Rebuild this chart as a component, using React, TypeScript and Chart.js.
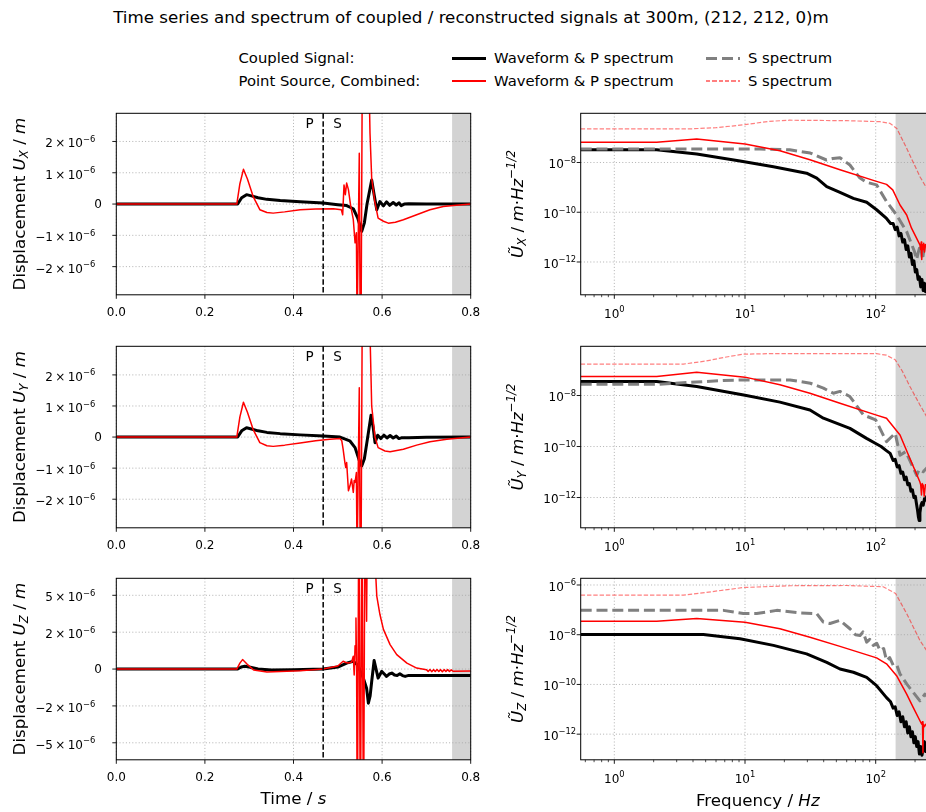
import React, { useEffect, useRef } from "react";
import { Chart, registerables, LinearScale } from "chart.js";

Chart.register(...registerables);

// ---------------- asinh scale (used for the vertical U_Z displacement axis) ----------------
const ASINH_WIDTH = 2.67e-6;
class AsinhScale extends LinearScale {
  static id = "asinh";
  getPixelForValue(value: any) {
    if (value === null || value === undefined || isNaN(value)) return NaN;
    const lo = Math.asinh(this.min / ASINH_WIDTH);
    const hi = Math.asinh(this.max / ASINH_WIDTH);
    return this.getPixelForDecimal((Math.asinh(value / ASINH_WIDTH) - lo) / (hi - lo));
  }
  getValueForPixel(pixel: number) {
    const lo = Math.asinh(this.min / ASINH_WIDTH);
    const hi = Math.asinh(this.max / ASINH_WIDTH);
    return ASINH_WIDTH * Math.sinh(lo + this.getDecimalForPixel(pixel) * (hi - lo));
  }
}
Chart.register(AsinhScale as any);

// ---------------- data: time series (t in s, displacement in m) ----------------
const T_UX_CPL = [0, 0.274, 0.283, 0.294, 0.305, 0.32, 0.34, 0.37, 0.415, 0.467, 0.5, 0.52, 0.535, 0.545, 0.554, 0.56, 0.566, 0.5765, 0.582, 0.588, 0.595, 0.603, 0.61, 0.617, 0.625, 0.632, 0.638, 0.643, 0.65, 0.66, 0.7, 0.8];
const UX_CPL = [0, 0, 0.2e-6, 0.3e-6, 0.26e-6, 0.2e-6, 0.15e-6, 0.11e-6, 0.07e-6, 0.03e-6, -0.02e-6, -0.05e-6, -0.15e-6, -0.45e-6, -0.87e-6, -0.6e-6, 0, 0.77e-6, 0.3e-6, -0.18e-6, 0.08e-6, -0.06e-6, 0.07e-6, -0.04e-6, 0.05e-6, -0.03e-6, 0.04e-6, -0.05e-6, 0, 0.01e-6, 0, 0];
const T_UX_PT = [0, 0.272, 0.279, 0.287, 0.296, 0.309, 0.324, 0.34, 0.354, 0.38, 0.415, 0.45, 0.49, 0.508, 0.511, 0.514, 0.517, 0.52, 0.524, 0.529, 0.535, 0.539, 0.542, 0.5435, 0.5455, 0.5485, 0.5505, 0.5525, 0.5555, 0.562, 0.569, 0.5727, 0.5765, 0.5835, 0.591, 0.603, 0.614, 0.63, 0.648, 0.678, 0.708, 0.738, 0.761, 0.8];
const UX_PT = [0, 0, 0.65e-6, 1.11e-6, 0.8e-6, 0.24e-6, -0.18e-6, -0.27e-6, -0.29e-6, -0.25e-6, -0.18e-6, -0.16e-6, -0.15e-6, -0.18e-6, -0.34e-6, 0.61e-6, 0.3e-6, 0.67e-6, 0.46e-6, -0.05e-6, -0.5e-6, -1.24e-6, -0.92e-6, -4e-6, -4e-6, 1.62e-6, -4e-6, -4e-6, 5e-6, 8e-6, 5e-6, 2.26e-6, 0.83e-6, 0.08e-6, -0.45e-6, -0.55e-6, -0.61e-6, -0.58e-6, -0.5e-6, -0.34e-6, -0.18e-6, -0.08e-6, -0.05e-6, 0];

const T_UY_CPL = [0, 0.274, 0.283, 0.294, 0.305, 0.32, 0.34, 0.37, 0.415, 0.467, 0.505, 0.527, 0.539, 0.55, 0.554, 0.56, 0.567, 0.575, 0.58, 0.584, 0.59, 0.597, 0.604, 0.611, 0.618, 0.625, 0.632, 0.638, 0.645, 0.66, 0.7, 0.8];
const UY_CPL = [0, 0, 0.2e-6, 0.3e-6, 0.26e-6, 0.2e-6, 0.15e-6, 0.11e-6, 0.07e-6, 0.03e-6, 0, -0.12e-6, -0.34e-6, -0.82e-6, -0.93e-6, -0.7e-6, -0.05e-6, 0.7e-6, 0.3e-6, -0.18e-6, 0.06e-6, -0.05e-6, 0.06e-6, -0.03e-6, 0.05e-6, -0.03e-6, 0.03e-6, -0.05e-6, -0.02e-6, -0.02e-6, -0.01e-6, 0];
const T_UY_PT = [0, 0.272, 0.279, 0.287, 0.296, 0.309, 0.324, 0.34, 0.354, 0.38, 0.415, 0.45, 0.482, 0.505, 0.509, 0.512, 0.516, 0.518, 0.52, 0.524, 0.5275, 0.531, 0.535, 0.537, 0.539, 0.542, 0.5435, 0.5455, 0.5485, 0.5505, 0.5525, 0.5555, 0.563, 0.57, 0.5765, 0.584, 0.591, 0.6065, 0.618, 0.648, 0.678, 0.708, 0.746, 0.8];
const UY_PT = [0, 0, 0.65e-6, 1.12e-6, 0.8e-6, 0.24e-6, -0.18e-6, -0.28e-6, -0.3e-6, -0.26e-6, -0.19e-6, -0.12e-6, -0.07e-6, -0.05e-6, -0.12e-6, -0.39e-6, -0.82e-6, -0.98e-6, -0.82e-6, -1.73e-6, -1.57e-6, -1.35e-6, -1.78e-6, -1.4e-6, -1.46e-6, -1.14e-6, -4e-6, -4e-6, 1.59e-6, -4e-6, -4e-6, 5e-6, 8e-6, 5e-6, 1.0e-6, 0, -0.34e-6, -0.45e-6, -0.47e-6, -0.39e-6, -0.26e-6, -0.15e-6, -0.07e-6, 0];

const T_UZ_CPL = [0, 0.274, 0.282, 0.29, 0.3, 0.32, 0.35, 0.4, 0.467, 0.5, 0.52, 0.535, 0.545, 0.5575, 0.565, 0.569, 0.573, 0.5765, 0.582, 0.591, 0.599, 0.605, 0.61, 0.616, 0.622, 0.628, 0.634, 0.64, 0.646, 0.652, 0.66, 0.7, 0.8];
const UZ_CPL = [0, 0, 0.1e-6, 0.14e-6, 0.1e-6, 0, -0.05e-6, -0.04e-6, 0, 0.1e-6, 0.3e-6, 0.39e-6, 0.2e-6, -0.45e-6, -0.98e-6, -1.83e-6, -1.4e-6, -0.63e-6, 0.43e-6, -0.455e-6, -0.12e-6, -0.25e-6, -0.37e-6, -0.25e-6, -0.2e-6, -0.3e-6, -0.32e-6, -0.24e-6, -0.33e-6, -0.37e-6, -0.32e-6, -0.32e-6, -0.32e-6];
const T_UZ_PT = [0, 0.272, 0.279, 0.285, 0.295, 0.31, 0.34, 0.415, 0.467, 0.5, 0.512, 0.518, 0.524, 0.531, 0.535, 0.537, 0.539, 0.541, 0.5425, 0.544, 0.5475, 0.551, 0.5545, 0.558, 0.5615, 0.565, 0.567, 0.575, 0.58, 0.588, 0.595, 0.603, 0.618, 0.633, 0.656, 0.678, 0.7, 0.704, 0.708, 0.712, 0.716, 0.72, 0.724, 0.728, 0.732, 0.736, 0.74, 0.744, 0.748, 0.752, 0.756, 0.76, 0.8];
const UZ_PT = [0, 0, 0.3e-6, 0.477e-6, 0.25e-6, -0.05e-6, -0.15e-6, -0.09e-6, 0, 0.15e-6, 0.39e-6, 0.33e-6, 0.3e-6, 0.35e-6, 0.65e-6, -0.3e-6, 1.2e-6, 2.98e-6, -0.2e-6, -40e-6, 40e-6, -40e-6, 40e-6, -40e-6, 40e-6, 2.74e-6, 30e-6, 40e-6, 20e-6, 4.92e-6, 3.26e-6, 2.18e-6, 1.27e-6, 0.735e-6, 0.3e-6, 0.05e-6, -0.03e-6, -0.12e-6, -0.02e-6, -0.13e-6, -0.03e-6, -0.12e-6, -0.02e-6, -0.12e-6, -0.03e-6, -0.13e-6, -0.03e-6, -0.12e-6, -0.03e-6, -0.12e-6, -0.04e-6, -0.11e-6, -0.1e-6];

// ---------------- data: spectra (f in Hz, amplitude in m Hz^-1/2) ----------------
const F_UX_P_CPL = [0.553, 2.11, 4.27, 9.16, 16.5, 29.6, 35.4, 42.2, 53.3, 67.5, 85.3, 101.6, 121, 130, 136, 141, 146, 151, 156, 161, 166, 171, 176, 181, 186, 191, 196, 201, 206, 211, 216, 221, 226, 231, 236, 241, 246, 250];
const UX_P_CPL = [3.24e-8, 3.24e-8, 2.19e-8, 1.15e-8, 6.76e-9, 3.72e-9, 2.34e-9, 1.07e-9, 6.31e-10, 3.63e-10, 2.51e-10, 1.26e-10, 5.62e-11, 3.55e-11, 3.55e-11, 2.0e-11, 2.51e-11, 1.12e-11, 1.41e-11, 6.31e-12, 7.94e-12, 3.16e-12, 4.47e-12, 1.58e-12, 2.24e-12, 7.94e-13, 1.12e-12, 3.98e-13, 5.01e-13, 2.0e-13, 2.51e-13, 1e-13, 2.0e-13, 7.08e-14, 1.41e-13, 6.31e-14, 1.26e-13, 7.94e-14];
const F_UX_S_CPL = [0.553, 2.11, 13, 22, 31.6, 42, 47, 53.3, 63.5, 75, 85, 101.6, 121, 144.5, 172.6, 198, 206, 212, 220, 228, 236, 250];
const UX_S_CPL = [3.47e-8, 3.47e-8, 3.47e-8, 3.24e-8, 2.4e-8, 1.26e-8, 1.45e-8, 1.55e-8, 7.94e-9, 2.51e-9, 1.6e-9, 1.26e-9, 2.69e-10, 7.76e-11, 1.66e-11, 2.63e-12, 1.26e-12, 2.51e-12, 5.01e-12, 1.26e-12, 3.98e-12, 2.51e-12];
const F_UX_P_PT = [0.553, 2.11, 4.27, 10, 18.5, 31.4, 53.3, 100, 121, 135, 153.5, 172.6, 188, 218, 221, 223, 225, 227, 230, 233, 236, 240, 245, 250];
const UX_P_PT = [6.46e-8, 6.46e-8, 8.71e-8, 5.5e-8, 2.95e-8, 1.29e-8, 5.13e-9, 1.78e-9, 1.32e-9, 7.94e-10, 1.95e-10, 7.76e-11, 2.29e-11, 4.9e-12, 3.16e-12, 6.31e-12, 1.26e-12, 5.01e-12, 3.16e-12, 5.62e-12, 2.51e-12, 5.01e-12, 3.98e-12, 4.47e-12];
const F_UX_S_PT = [0.553, 3.8, 6, 10, 15, 22, 60, 108, 129, 145, 172.6, 218, 250];
const UX_S_PT = [2.24e-7, 2.24e-7, 2.51e-7, 3.31e-7, 4.47e-7, 5.01e-7, 4.79e-7, 4.37e-7, 3.72e-7, 2.34e-7, 3.72e-8, 2.69e-9, 7.94e-10];

const F_UY_P_CPL = [0.553, 2.11, 4.27, 10, 18.5, 31.4, 39.8, 63.5, 85.1, 100, 110, 120, 129, 136, 141, 146, 151, 156, 161, 166, 171, 176, 181, 186, 191, 196, 201, 206, 209, 212, 215, 218, 222, 226, 231, 236, 241, 246, 250];
const UY_P_CPL = [3.55e-8, 3.55e-8, 2.24e-8, 1.02e-8, 5.5e-9, 2.69e-9, 1.29e-9, 5.13e-10, 2.09e-10, 1.32e-10, 1e-10, 7.08e-11, 5.37e-11, 2.82e-11, 3.16e-11, 1.58e-11, 1.78e-11, 8.91e-12, 1e-11, 5.01e-12, 6.31e-12, 3.16e-12, 3.55e-12, 1.78e-12, 2.0e-12, 1e-12, 1.12e-12, 5.01e-13, 3.16e-13, 1.78e-13, 1.26e-13, 2.51e-13, 5.01e-13, 6.31e-13, 5.01e-13, 8.91e-13, 7.94e-13, 1.12e-12, 1.26e-12];
const F_UY_S_CPL = [0.553, 2.11, 6.82, 10, 22.1, 31.6, 39.8, 47.4, 53.3, 63.5, 80.4, 100, 121, 141, 153.5, 170, 206, 215, 231, 250];
const UY_S_CPL = [2.75e-8, 2.75e-8, 3.89e-8, 4.07e-8, 4.07e-8, 3.02e-8, 1.95e-8, 1.23e-8, 1.45e-8, 9.12e-9, 1.74e-9, 1.1e-9, 1.55e-10, 3.31e-10, 4.57e-11, 6.31e-11, 7.41e-12, 1.26e-11, 1.02e-11, 1.58e-11];
const F_UY_P_PT = [0.553, 2.11, 4.27, 10, 18.5, 31.4, 53.3, 100, 121, 153.5, 182.8, 218, 221, 224, 227, 231, 235, 240, 250];
const UY_P_PT = [5.62e-8, 5.62e-8, 8.13e-8, 5.25e-8, 2.63e-8, 1.23e-8, 5.01e-9, 1.74e-9, 1.29e-9, 2.82e-10, 3.39e-11, 4.07e-12, 3.16e-12, 1.26e-12, 3.55e-12, 3.02e-12, 1.12e-12, 3.16e-12, 3.16e-12];
const F_UY_S_PT = [0.553, 3.37, 5, 7, 9.7, 15, 101.6, 121, 141, 160, 182.8, 218, 250];
const UY_S_PT = [1.7e-7, 1.7e-7, 2.24e-7, 3.16e-7, 4.17e-7, 4.37e-7, 4.37e-7, 3.8e-7, 2.51e-7, 8.91e-8, 2.24e-8, 4.27e-9, 1.26e-9];

const F_UZ_P_CPL = [0.553, 4.8, 9.16, 16.5, 29.6, 42.2, 53.3, 67.5, 85.3, 101.6, 121, 130, 136, 141, 146, 151, 156, 161, 166, 171, 176, 181, 186, 191, 196, 201, 206, 211, 216, 221, 226, 231, 236, 241, 246, 250];
const UZ_P_CPL = [1.02e-8, 1.02e-8, 6.92e-9, 3.72e-9, 1.7e-9, 7.76e-10, 4.17e-10, 3.09e-10, 1.91e-10, 8.91e-11, 2.95e-11, 2.0e-11, 1.12e-11, 1.26e-11, 5.62e-12, 7.94e-12, 3.16e-12, 5.01e-12, 2.0e-12, 3.16e-12, 1.12e-12, 2.0e-12, 7.94e-13, 1.26e-12, 4.47e-13, 7.94e-13, 3.16e-13, 5.01e-13, 1.58e-13, 3.16e-13, 1.41e-13, 2.51e-13, 5.01e-13, 2.0e-13, 3.98e-13, 3.16e-13];
const F_UZ_S_CPL = [0.553, 6.82, 9.7, 12.3, 17.5, 26.4, 35.4, 39.7, 44.7, 53.3, 63.5, 70, 75.9, 80, 85.3, 90, 95.9, 102, 108, 115, 121, 128, 136.5, 145, 153.5, 172.6, 194, 218, 238, 250];
const UZ_S_CPL = [9.55e-8, 9.55e-8, 7.08e-8, 7.08e-8, 9.55e-8, 7.59e-8, 7.08e-8, 3.24e-8, 2.82e-8, 3.8e-8, 1.74e-8, 1.0e-8, 9.33e-9, 1.3e-8, 5.01e-9, 6.5e-9, 3.72e-9, 4.5e-9, 2.29e-9, 2.8e-9, 9.12e-10, 1.2e-9, 5.75e-10, 6.0e-10, 2.63e-10, 1.05e-10, 4.79e-11, 2.19e-11, 4.07e-11, 3.16e-11];
const F_UZ_P_PT = [0.553, 2.11, 4.27, 10, 18.5, 31.4, 53.3, 101.6, 121, 144.5, 172.6, 194, 225, 228, 230, 232, 236, 242, 250];
const UZ_P_PT = [3.47e-8, 3.47e-8, 4.47e-8, 3.16e-8, 1.74e-8, 7.94e-9, 3.39e-9, 1.17e-9, 6.76e-10, 2.24e-10, 4.07e-11, 1.17e-11, 2.51e-12, 3.16e-12, 1.78e-13, 2.51e-12, 2.0e-12, 2.51e-12, 2.51e-12];
const F_UZ_S_PT = [0.553, 3.37, 5, 7, 9.7, 22.1, 60, 114, 142, 172.6, 218, 250];
const UZ_S_PT = [3.89e-7, 3.89e-7, 5.01e-7, 6.31e-7, 7.94e-7, 9.33e-7, 9.55e-7, 8.51e-7, 4.57e-7, 7.08e-8, 5.89e-9, 2.0e-9];

// ---------------- ticks / ranges / markers ----------------
const TIME_TICKS = [0, 0.2, 0.4, 0.6, 0.8];
const UXY_TIME_YTICKS = [-2e-6, -1e-6, 0, 1e-6, 2e-6];
const UZ_TIME_YTICKS = [-5e-6, -2e-6, 0, 2e-6, 5e-6];
const FREQ_TICKS = [1, 10, 100];
const UXY_SPEC_YTICKS = [1e-12, 1e-10, 1e-8];
const UZ_SPEC_YTICKS = [1e-12, 1e-10, 1e-8, 1e-6];
const ARRIVAL_T = 0.467; // dashed separator between P and S windows
const TIME_SHADE_FROM = 0.758;
const FREQ_SHADE_FROM = 142;
const TIME_RANGE = [0, 0.8];
const FREQ_RANGE = [0.553, 250];
const UX_TIME_RANGE = [-2.9e-6, 2.9e-6];
const UY_TIME_RANGE = [-2.92e-6, 2.92e-6];
const UZ_TIME_RANGE = [-7.1e-6, 7.1e-6];
const UX_SPEC_RANGE = [4.8e-14, 9.5e-7];
const UY_SPEC_RANGE = [6.5e-14, 8.5e-7];
const UZ_SPEC_RANGE = [9.3e-14, 1.86e-6];

// ---------------- styles ----------------
const FONT = '"DejaVu Sans", sans-serif';
const TICK_SIZE = 12;
const LABEL_SIZE = 16.7;
const BLACK = "#000000";
const RED = "#ff0000";
const GRAY = "#808080";
const PINK = "rgba(255,0,0,0.5)";
const SHADE = "#d3d3d3";
const GRID = "#a8a8a8";

type Seg = { t: string; it?: boolean; sub?: boolean; sup?: boolean };
type Series = { x: number[]; y: number[]; color: string; width: number; dash?: number[]; order: number };
type Panel = {
  kind: "time" | "spec";
  comp: string;
  cx: number; cy: number; cw: number; ch: number;
  left: number; top: number; right: number; bottom: number;
  xType: string; yType: string;
  xr: number[]; yr: number[];
  xTicks: number[]; yTicks: number[];
  shadeFrom: number;
  series: Series[];
  xLabel: boolean;
};

const fnt = (size: number, italic?: boolean) => `${italic ? "italic " : ""}${size}px ${FONT}`;

function drawRich(ctx: CanvasRenderingContext2D, segs: Seg[], x: number, y: number, size: number, align: "left" | "center" | "right") {
  const sizes = segs.map((s) => (s.sub || s.sup ? size * 0.7 : size));
  const widths = segs.map((s, i) => {
    ctx.font = fnt(sizes[i], s.it);
    return ctx.measureText(s.t).width;
  });
  const total = widths.reduce((a, b) => a + b, 0);
  let cx = align === "left" ? x : align === "center" ? x - total / 2 : x - total;
  ctx.textAlign = "left";
  ctx.textBaseline = "alphabetic";
  segs.forEach((s, i) => {
    ctx.font = fnt(sizes[i], s.it);
    const dy = s.sub ? size * 0.22 : s.sup ? -size * 0.45 : 0;
    ctx.fillText(s.t, cx, y + dy);
    cx += widths[i];
  });
}

function sciLabel(v: number): Seg[] {
  if (v === 0) return [{ t: "0" }];
  const m = Math.round(v / 1e-6);
  return [{ t: `${m < 0 ? "\u2212" : ""}${Math.abs(m)}\u2009\u00d7\u200910` }, { t: "\u22126", sup: true }];
}
function logLabel(v: number): Seg[] {
  const e = Math.round(Math.log10(v));
  return [{ t: "10" }, { t: e < 0 ? `\u2212${-e}` : `${e}`, sup: true }];
}

function decorPlugin(p: Panel) {
  return {
    id: "decor",
    beforeDatasetsDraw(chart: any) {
      const { ctx, chartArea: a, scales } = chart;
      const xs = scales.x, ys = scales.y;
      ctx.save();
      const sx = xs.getPixelForValue(p.shadeFrom);
      ctx.fillStyle = SHADE;
      ctx.fillRect(sx, a.top, a.right - sx, a.bottom - a.top);
      ctx.strokeStyle = GRID;
      ctx.lineWidth = 0.9;
      ctx.setLineDash([1, 2.2]);
      ctx.beginPath();
      for (const v of p.xTicks) {
        const x = xs.getPixelForValue(v);
        ctx.moveTo(x, a.top);
        ctx.lineTo(x, a.bottom);
      }
      for (const v of p.yTicks) {
        const y = ys.getPixelForValue(v);
        ctx.moveTo(a.left, y);
        ctx.lineTo(a.right, y);
      }
      ctx.stroke();
      ctx.restore();
    },
    afterDatasetsDraw(chart: any) {
      const { ctx, chartArea: a, scales } = chart;
      const xs = scales.x, ys = scales.y;
      ctx.save();
      ctx.fillStyle = "#000";
      if (p.kind === "time") {
        const vx = xs.getPixelForValue(ARRIVAL_T);
        ctx.strokeStyle = "#000";
        ctx.lineWidth = 1.5;
        ctx.setLineDash([5.5, 2.4]);
        ctx.beginPath();
        ctx.moveTo(vx, a.top);
        ctx.lineTo(vx, a.bottom);
        ctx.stroke();
        ctx.setLineDash([]);
        ctx.font = fnt(13.5);
        ctx.textBaseline = "alphabetic";
        ctx.textAlign = "right";
        ctx.fillText("P", vx - 9.5, a.top + 15);
        ctx.textAlign = "left";
        ctx.fillText("S", vx + 10, a.top + 15);
      }
      // spines
      ctx.setLineDash([]);
      ctx.strokeStyle = "#000";
      ctx.lineWidth = 1;
      ctx.strokeRect(a.left, a.top, a.right - a.left, a.bottom - a.top);
      // ticks
      ctx.lineWidth = 0.9;
      ctx.beginPath();
      for (const v of p.xTicks) {
        const x = xs.getPixelForValue(v);
        ctx.moveTo(x, a.bottom);
        ctx.lineTo(x, a.bottom + 4);
      }
      for (const v of p.yTicks) {
        const y = ys.getPixelForValue(v);
        ctx.moveTo(a.left, y);
        ctx.lineTo(a.left - 4, y);
      }
      ctx.stroke();
      if (p.kind === "spec") {
        ctx.lineWidth = 0.7;
        ctx.beginPath();
        for (let d = -1; d <= 2; d++) {
          for (let m = 2; m <= 9; m++) {
            const v = m * Math.pow(10, d);
            if (v < p.xr[0] || v > p.xr[1]) continue;
            const x = xs.getPixelForValue(v);
            ctx.moveTo(x, a.bottom);
            ctx.lineTo(x, a.bottom + 2.4);
          }
        }
        ctx.stroke();
      }
      // tick labels
      for (const v of p.xTicks) {
        const x = xs.getPixelForValue(v);
        if (p.kind === "time") drawRich(ctx, [{ t: v.toFixed(1) }], x, a.bottom + 21.4, TICK_SIZE, "center");
        else drawRich(ctx, logLabel(v), x, a.bottom + 22.7, TICK_SIZE, "center");
      }
      for (const v of p.yTicks) {
        const y = ys.getPixelForValue(v);
        if (p.kind === "time") {
          if (v === 0) drawRich(ctx, sciLabel(v), a.left - 14.5, y + 4.4, TICK_SIZE, "right");
          else drawRich(ctx, sciLabel(v), a.left - 21, y + 6, TICK_SIZE, "right");
        } else drawRich(ctx, logLabel(v), a.left - 4.5, y + 5.7, TICK_SIZE, "right");
      }
      // y axis label (rotated)
      const cyMid = (a.top + a.bottom) / 2;
      ctx.save();
      if (p.kind === "time") {
        ctx.translate(24.5, cyMid);
        ctx.rotate(-Math.PI / 2);
        drawRich(ctx, [{ t: "Displacement " }, { t: "U", it: true }, { t: p.comp, it: true, sub: true }, { t: " / " }, { t: "m", it: true }], 0, 0, LABEL_SIZE, "center");
      } else {
        ctx.translate(42.5, cyMid);
        ctx.rotate(-Math.PI / 2);
        drawRich(ctx, [{ t: "\u0168", it: true }, { t: p.comp, it: true, sub: true }, { t: " / " }, { t: "m", it: true }, { t: "\u00b7" }, { t: "Hz", it: true }, { t: "\u22121/2", it: true, sup: true }], 0, 0, LABEL_SIZE, "center");
      }
      ctx.restore();
      if (p.xLabel) {
        if (p.kind === "time") drawRich(ctx, [{ t: "Time / " }, { t: "s", it: true }], (a.left + a.right) / 2, a.bottom + 44, LABEL_SIZE, "center");
        else drawRich(ctx, [{ t: "Frequency / " }, { t: "Hz", it: true }], 757.8 - p.cx, a.bottom + 46, LABEL_SIZE, "center");
      }
      ctx.restore();
    },
  };
}

function buildConfig(p: Panel) {
  return {
    type: "line",
    data: {
      datasets: p.series.map((s) => ({
        data: s.x.map((x, i) => ({ x, y: s.y[i] })),
        borderColor: s.color,
        borderWidth: s.width,
        borderDash: s.dash || [],
        pointRadius: 0,
        tension: 0,
        fill: false,
        order: s.order,
        borderJoinStyle: "round",
        borderCapStyle: "butt",
      })),
    },
    options: {
      animation: false,
      responsive: false,
      devicePixelRatio: 1,
      events: [],
      layout: { padding: { left: p.left, top: p.top, right: p.cw - p.right, bottom: p.ch - p.bottom } },
      plugins: { legend: { display: false }, tooltip: { enabled: false }, title: { display: false } },
      scales: {
        x: { type: p.xType, min: p.xr[0], max: p.xr[1], display: false },
        y: { type: p.yType, min: p.yr[0], max: p.yr[1], display: false },
      },
    },
    plugins: [decorPlugin(p)],
  };
}

const ROW_TOPS = [113.3, 346.3, 578.3];
const ROW_H = 181.5;
const CANVAS_Y = [83, 316, 548];
const CANVAS_H = [240, 240, 264];

function timePanel(row: number, comp: string, yType: string, yr: number[], yTicks: number[], tk: number[], vk: number[], tr: number[], vr: number[]): Panel {
  const cy = CANVAS_Y[row];
  return {
    kind: "time", comp, cx: 0, cy, cw: 480, ch: CANVAS_H[row],
    left: 116.3, right: 470.7, top: ROW_TOPS[row] - cy, bottom: ROW_TOPS[row] + ROW_H - cy,
    xType: "linear", yType, xr: TIME_RANGE, yr, xTicks: TIME_TICKS, yTicks, shadeFrom: TIME_SHADE_FROM,
    series: [
      { x: tk, y: vk, color: BLACK, width: 3, order: 2 },
      { x: tr, y: vr, color: RED, width: 1.5, order: 1 },
    ],
    xLabel: row === 2,
  };
}
function specPanel(row: number, comp: string, yr: number[], yTicks: number[], s: number[][]): Panel {
  const cy = CANVAS_Y[row];
  return {
    kind: "spec", comp, cx: 480, cy, cw: 460, ch: CANVAS_H[row],
    left: 100.7, right: 447.7, top: ROW_TOPS[row] - cy, bottom: ROW_TOPS[row] + ROW_H - cy,
    xType: "logarithmic", yType: "logarithmic", xr: FREQ_RANGE, yr, xTicks: FREQ_TICKS, yTicks, shadeFrom: FREQ_SHADE_FROM,
    series: [
      { x: s[0], y: s[1], color: BLACK, width: 3, order: 4 },
      { x: s[2], y: s[3], color: GRAY, width: 3, dash: [11, 4.8], order: 3 },
      { x: s[4], y: s[5], color: RED, width: 1.5, order: 2 },
      { x: s[6], y: s[7], color: PINK, width: 1.2, dash: [4.4, 1.9], order: 1 },
    ],
    xLabel: row === 2,
  };
}

const PANELS: Panel[] = [
  timePanel(0, "X", "linear", UX_TIME_RANGE, UXY_TIME_YTICKS, T_UX_CPL, UX_CPL, T_UX_PT, UX_PT),
  timePanel(1, "Y", "linear", UY_TIME_RANGE, UXY_TIME_YTICKS, T_UY_CPL, UY_CPL, T_UY_PT, UY_PT),
  timePanel(2, "Z", "asinh", UZ_TIME_RANGE, UZ_TIME_YTICKS, T_UZ_CPL, UZ_CPL, T_UZ_PT, UZ_PT),
  specPanel(0, "X", UX_SPEC_RANGE, UXY_SPEC_YTICKS, [F_UX_P_CPL, UX_P_CPL, F_UX_S_CPL, UX_S_CPL, F_UX_P_PT, UX_P_PT, F_UX_S_PT, UX_S_PT]),
  specPanel(1, "Y", UY_SPEC_RANGE, UXY_SPEC_YTICKS, [F_UY_P_CPL, UY_P_CPL, F_UY_S_CPL, UY_S_CPL, F_UY_P_PT, UY_P_PT, F_UY_S_PT, UY_S_PT]),
  specPanel(2, "Z", UZ_SPEC_RANGE, UZ_SPEC_YTICKS, [F_UZ_P_CPL, UZ_P_CPL, F_UZ_S_CPL, UZ_S_CPL, F_UZ_P_PT, UZ_P_PT, F_UZ_S_PT, UZ_S_PT]),
];

function ChartPanel({ p }: { p: Panel }) {
  const ref = useRef<HTMLCanvasElement>(null);
  useEffect(() => {
    const chart = new Chart(ref.current as HTMLCanvasElement, buildConfig(p) as any);
    return () => chart.destroy();
  }, [p]);
  return (
    <canvas
      ref={ref}
      width={p.cw}
      height={p.ch}
      style={{ position: "absolute", left: p.cx, top: p.cy, width: p.cw, height: p.ch }}
    />
  );
}

const txt = (left: number, top: number, size: number, center = false): React.CSSProperties => ({
  position: "absolute",
  left,
  top,
  transform: center ? "translate(-50%, -50%)" : "translateY(-50%)",
  whiteSpace: "nowrap",
  font: `${size}px ${FONT}`,
  lineHeight: 1,
  color: "#000",
});

export default function App() {
  const LEG = 14.8;
  return (
    <div style={{ position: "absolute", left: 0, top: 0, width: 926, height: 812, overflow: "hidden", background: "#fff" }}>
      <div style={txt(471, 17, LABEL_SIZE, true)}>
        Time series and spectrum of coupled / reconstructed signals at 300m, (212, 212, 0)m
      </div>
      <div style={txt(238.5, 58, LEG)}>Coupled Signal:</div>
      <div style={txt(238.5, 81, LEG)}>Point Source, Combined:</div>
      <div style={{ position: "absolute", left: 452, top: 56.5, width: 34, height: 3, background: BLACK }} />
      <div style={{ position: "absolute", left: 452, top: 80.25, width: 34, height: 1.5, background: RED }} />
      <div style={{ position: "absolute", left: 706, top: 56.5, width: 34, height: 3, background: `repeating-linear-gradient(to right, ${GRAY} 0px, ${GRAY} 11px, transparent 11px, transparent 15.8px)` }} />
      <div style={{ position: "absolute", left: 706, top: 80.4, width: 34, height: 1.2, background: `repeating-linear-gradient(to right, ${PINK} 0px, ${PINK} 4.4px, transparent 4.4px, transparent 6.3px)` }} />
      <div style={txt(494, 58, LEG)}>Waveform &amp; P spectrum</div>
      <div style={txt(494, 81, LEG)}>Waveform &amp; P spectrum</div>
      <div style={txt(748, 58, LEG)}>S spectrum</div>
      <div style={txt(748, 81, LEG)}>S spectrum</div>
      {PANELS.map((p, i) => (
        <ChartPanel key={i} p={p} />
      ))}
    </div>
  );
}
